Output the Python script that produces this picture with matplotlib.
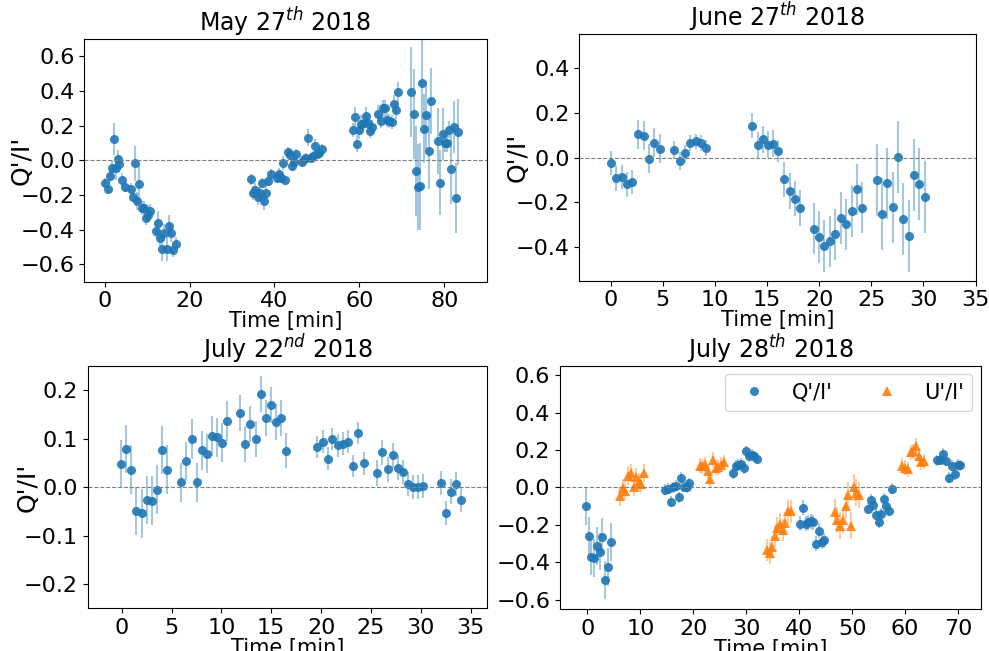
import numpy as np
import matplotlib
matplotlib.use("Agg")
import matplotlib.pyplot as plt

# ---- May 27th 2018 ----
t1 = [0.15, 0.7, 1.2, 1.65, 2.2, 2.75, 3.2, 3.5, 4.2, 4.7,
      6.1, 6.7, 7.1, 7.7, 8.2, 8.7, 9.2, 9.7, 10.2, 10.75,
      12.1, 12.6, 13.1, 13.6, 14.1, 14.7, 15.1, 15.7, 16.2, 16.7,
      34.5, 35.0, 35.5, 36.1, 36.5, 37.1, 37.6, 38.1, 38.6, 39.1,
      40.5, 41.1, 41.6, 42.1, 42.6, 43.2, 43.7, 44.2, 44.6, 45.1,
      46.4, 46.9, 47.5, 48.0, 48.5, 49.0, 49.5, 50.0, 50.5, 51.1,
      58.4, 59.0, 59.5, 60.0, 60.5, 61.0, 61.5, 62.0, 62.5, 63.1,
      64.5, 65.1, 65.6, 66.1, 66.6, 67.1, 67.7, 68.2, 68.6, 69.2,
      72.2, 72.8, 73.3, 73.8, 74.3, 74.8, 75.3, 75.8, 76.3, 76.9,
      78.6, 79.1, 79.6, 80.2, 80.6, 81.2, 81.7, 82.2, 82.8, 83.3]
q1 = [-0.13, -0.165, -0.092, -0.046, 0.123, -0.046, 0.01, -0.02, -0.115, -0.154,
      -0.163, -0.21, -0.017, -0.234, -0.134, -0.273, -0.275, -0.332, -0.313, -0.294,
      -0.405, -0.36, -0.45, -0.51, -0.417, -0.51, -0.376, -0.42, -0.515, -0.48,
      -0.11, -0.186, -0.17, -0.21, -0.186, -0.13, -0.236, -0.19, -0.12, -0.081,
      -0.10, -0.077, -0.10, -0.015, -0.115, 0.048, 0.03, -0.033, -0.01, 0.034,
      -0.01, 0.006, 0.014, 0.131, 0.014, 0.023, 0.081, 0.035, 0.042, 0.063,
      0.173, 0.25, 0.096, 0.173, 0.21, 0.215, 0.258, 0.215, 0.167, 0.19,
      0.27, 0.227, 0.30, 0.30, 0.234, 0.227, 0.22, 0.327, 0.288, 0.392,
      0.392, 0.265, -0.06, -0.154, -0.15, 0.448, 0.183, 0.26, 0.052, 0.344,
      0.11, -0.128, 0.15, 0.10, 0.098, 0.177, -0.052, 0.192, -0.217, 0.165]
e1 = [0.03, 0.03, 0.04, 0.05, 0.09, 0.07, 0.05, 0.05, 0.04, 0.03,
      0.03, 0.03, 0.10, 0.05, 0.12, 0.04, 0.04, 0.04, 0.04, 0.04,
      0.04, 0.07, 0.05, 0.07, 0.05, 0.07, 0.06, 0.05, 0.04, 0.04,
      0.03, 0.04, 0.04, 0.05, 0.04, 0.03, 0.05, 0.04, 0.03, 0.03,
      0.03, 0.03, 0.03, 0.04, 0.03, 0.03, 0.03, 0.03, 0.03, 0.03,
      0.03, 0.03, 0.03, 0.05, 0.03, 0.03, 0.04, 0.03, 0.03, 0.03,
      0.04, 0.06, 0.05, 0.05, 0.05, 0.04, 0.05, 0.04, 0.04, 0.04,
      0.05, 0.04, 0.05, 0.05, 0.04, 0.04, 0.04, 0.05, 0.05, 0.06,
      0.26, 0.26, 0.26, 0.25, 0.25, 0.25, 0.20, 0.20, 0.22, 0.19,
      0.19, 0.19, 0.15, 0.05, 0.05, 0.05, 0.20, 0.15, 0.20, 0.19]

# ---- June 27th 2018 ----
t2 = [0.06, 0.55, 1.08, 1.6, 2.1, 2.6, 3.16, 3.64, 4.18, 4.7,
      6.1, 6.63, 7.15, 7.66, 8.2, 8.68, 9.16,
      13.6, 14.1, 14.6, 15.1, 15.6, 16.1, 16.65, 17.16, 17.67, 18.2,
      19.5, 20.03, 20.5, 21.05, 21.56, 22.1, 22.6, 23.1, 23.6, 24.1,
      25.5, 26.0, 26.5, 27.05, 27.56, 28.07, 28.6, 29.1, 29.6, 30.1]
q2 = [-0.025, -0.093, -0.087, -0.12, -0.11, 0.103, 0.098, -0.005, 0.067, 0.04,
      0.034, -0.014, 0.018, 0.065, 0.072, 0.065, 0.041,
      0.142, 0.055, 0.081, 0.058, 0.061, 0.028, -0.098, -0.149, -0.183, -0.224,
      -0.317, -0.355, -0.395, -0.374, -0.343, -0.269, -0.299, -0.238, -0.142, -0.224,
      -0.101, -0.253, -0.116, -0.223, 0.003, -0.276, -0.349, -0.078, -0.118, -0.176]
e2 = [0.055, 0.055, 0.055, 0.055, 0.055, 0.065, 0.065, 0.065, 0.065, 0.065,
      0.04, 0.04, 0.04, 0.035, 0.035, 0.035, 0.035,
      0.056, 0.06, 0.06, 0.06, 0.06, 0.05, 0.08, 0.08, 0.08, 0.08,
      0.115, 0.115, 0.115, 0.115, 0.115, 0.115, 0.115, 0.115, 0.115, 0.115,
      0.16, 0.16, 0.16, 0.16, 0.16, 0.16, 0.16, 0.16, 0.16, 0.16]

# ---- July 22nd 2018 ----
t3 = [-0.07, 0.43, 0.96, 1.47, 2.0, 2.5, 3.0, 3.5, 4.05, 4.55,
      5.95, 6.49, 7.03, 7.53, 8.03, 8.56, 9.07, 9.6, 10.07, 10.6,
      11.88, 12.4, 12.9, 13.45, 13.95, 14.49, 14.99, 15.5, 16.02, 16.45,
      19.6, 20.14, 20.64, 21.14, 21.69, 22.19, 22.72, 23.22, 23.73, 24.26,
      25.63, 26.13, 26.67, 27.17, 27.67, 28.21, 28.71, 29.2, 29.7, 30.25,
      32.0, 32.53, 33.03, 33.56, 34.07]
q3 = [0.048, 0.079, 0.036, -0.049, -0.054, -0.027, -0.028, -0.005, 0.077, 0.036,
      0.010, 0.054, 0.10, 0.01, 0.076, 0.069, 0.105, 0.103, 0.092, 0.137,
      0.153, 0.089, 0.13, 0.10, 0.193, 0.143, 0.17, 0.135, 0.143, 0.075,
      0.083, 0.094, 0.059, 0.099, 0.086, 0.09, 0.094, 0.044, 0.112, 0.049,
      0.029, 0.072, 0.037, 0.066, 0.04, 0.031, 0.006, 0.001, 0.0, 0.003,
      0.009, -0.053, -0.009, 0.007, -0.027]
e3 = [0.05, 0.05, 0.05, 0.05, 0.05, 0.05, 0.05, 0.05, 0.05, 0.05,
      0.04, 0.04, 0.041, 0.04, 0.04, 0.04, 0.041, 0.04, 0.04, 0.041,
      0.037, 0.037, 0.037, 0.037, 0.037, 0.037, 0.037, 0.037, 0.037, 0.036,
      0.023, 0.023, 0.023, 0.023, 0.023, 0.023, 0.023, 0.023, 0.022, 0.023,
      0.026, 0.026, 0.026, 0.026, 0.026, 0.025, 0.025, 0.025, 0.025, 0.025,
      0.025, 0.025, 0.025, 0.025, 0.025]

# ---- July 28th 2018 ----
t4q = [-0.25, 0.26, 0.7, 1.27, 1.78, 2.27, 2.78, 3.3, 3.8, 4.36,
       14.7, 15.2, 15.7, 16.2, 16.7, 17.2, 17.75, 18.25, 18.75, 19.26,
       27.46, 27.97, 28.5, 28.97, 29.5, 30.0, 30.5, 31.0, 31.5, 32.0,
       40.2, 40.7, 41.2, 41.7, 42.2, 42.7, 43.25, 43.75, 44.26, 44.77,
       53.0, 53.5, 54.0, 54.5, 55.0, 55.5, 56.0, 56.5, 57.0, 57.6,
       66.1, 66.6, 67.2, 67.7, 68.3, 68.8, 69.45, 69.96, 70.45]
q4 = [-0.10, -0.258, -0.369, -0.376, -0.313, -0.342, -0.262, -0.495, -0.424, -0.29,
      -0.011, -0.007, -0.075, 0.0, 0.009, -0.053, 0.05, 0.004, 0.0, 0.023,
      0.077, 0.116, 0.12, 0.127, 0.104, 0.193, 0.166, 0.173, 0.166, 0.153,
      -0.194, -0.109, -0.194, -0.185, -0.18, -0.185, -0.30, -0.23, -0.289, -0.281,
      -0.114, -0.066, -0.093, -0.146, -0.185, -0.142, -0.06, -0.10, -0.123, -0.007,
      0.144, 0.148, 0.179, 0.143, 0.052, 0.116, 0.072, 0.121, 0.118]
e4q = [0.10] * 10 + [0.03] * 10 + [0.03] * 10 + [0.04] * 10 + [0.03] * 10 + [0.03] * 9
t4u = [6.2, 6.7, 7.14, 7.7, 8.2, 8.7, 9.2, 9.7, 10.2, 10.7,
       21.2, 21.7, 22.2, 22.7, 23.2, 23.75, 24.2, 24.75, 25.26, 25.76,
       33.9, 34.4, 34.9, 35.4, 35.9, 36.4, 36.9, 37.4, 37.95, 38.45,
       46.7, 47.2, 47.7, 48.2, 48.8, 49.3, 49.8, 50.3, 50.8, 51.3,
       59.5, 60.0, 60.5, 61.06, 61.55, 62.06, 62.57, 63.07, 63.58]
u4 = [-0.048, -0.003, -0.018, 0.063, 0.077, 0.005, 0.056, 0.027, 0.02, 0.077,
      0.116, 0.112, 0.123, 0.086, 0.045, 0.148, 0.104, 0.109, 0.121, 0.134,
      -0.333, -0.351, -0.32, -0.258, -0.217, -0.196, -0.226, -0.19, -0.128, -0.128,
      -0.132, -0.173, -0.203, -0.176, -0.098, -0.039, -0.203, 0.0, -0.027, -0.039,
      0.116, 0.104, 0.098, 0.187, 0.193, 0.223, 0.166, 0.134, 0.139]
e4u = [0.05] * 10 + [0.04] * 10 + [0.06] * 10 + [0.07] * 10 + [0.04] * 9

plt.rcParams['font.size'] = 16
blue = '#1f77b4'
orange = '#ff7f0e'


def points(ax, t, v, e, color, marker='o', label=None):
    ax.errorbar(t, v, yerr=e, fmt='none', ecolor=color, alpha=0.4, elinewidth=1.5)
    ax.plot(t, v, linestyle='none', marker=marker, color=color, alpha=0.9,
            markersize=6.5, markeredgewidth=0, label=label)


fig = plt.figure(figsize=(9.89, 6.51), dpi=100)
ax1 = fig.add_axes([0.0852, 0.5673, 0.4069, 0.3728])
ax2 = fig.add_axes([0.5857, 0.5688, 0.4008, 0.3785])
ax3 = fig.add_axes([0.0887, 0.0656, 0.4034, 0.3722])
ax4 = fig.add_axes([0.5662, 0.0641, 0.4254, 0.3742])

points(ax1, t1, q1, e1, blue)
points(ax2, t2, q2, e2, blue)
points(ax3, t3, q3, e3, blue)
points(ax4, t4q, q4, e4q, blue, 'o', "Q'/I'")
points(ax4, t4u, u4, e4u, orange, '^', "U'/I'")

titles = ['May 27$^{th}$ 2018', 'June 27$^{th}$ 2018',
          'July 22$^{nd}$ 2018', 'July 28$^{th}$ 2018']
for ax, title in zip([ax1, ax2, ax3, ax4], titles):
    ax.axhline(0, color='gray', linestyle='--', linewidth=0.8)
    ax.set_title(title, fontsize=17, pad=5)
    ax.set_xlabel('Time [min]', fontsize=15, labelpad=0)

for ax in [ax1, ax2, ax3]:
    ax.set_ylabel("Q'/I'", fontsize=18)
ax1.yaxis.set_label_coords(-0.125, 0.5)
ax2.yaxis.set_label_coords(-0.125, 0.5)
ax3.yaxis.set_label_coords(-0.12, 0.5)

ax1.set_xlim(-4.8, 90)
ax1.set_ylim(-0.7, 0.7)
ax1.set_xticks([0, 20, 40, 60, 80])
ax1.set_yticks(np.arange(-0.6, 0.61, 0.2))

ax2.set_xlim(-3, 35)
ax2.set_ylim(-0.55, 0.55)
ax2.set_xticks(np.arange(0, 36, 5))
ax2.set_yticks(np.arange(-0.4, 0.41, 0.2))

ax3.set_xlim(-3.4, 36.6)
ax3.set_ylim(-0.25, 0.25)
ax3.set_xticks(np.arange(0, 36, 5))
ax3.set_yticks(np.arange(-0.2, 0.21, 0.1))

ax4.set_xlim(-5.2, 74.3)
ax4.set_ylim(-0.65, 0.65)
ax4.set_xticks(np.arange(0, 71, 10))
ax4.set_yticks(np.arange(-0.6, 0.61, 0.2))
ax4.legend(loc='upper right', ncol=2, fontsize=15, columnspacing=1.6,
           borderaxespad=0.4)

fig.savefig('out.png', dpi=100)
